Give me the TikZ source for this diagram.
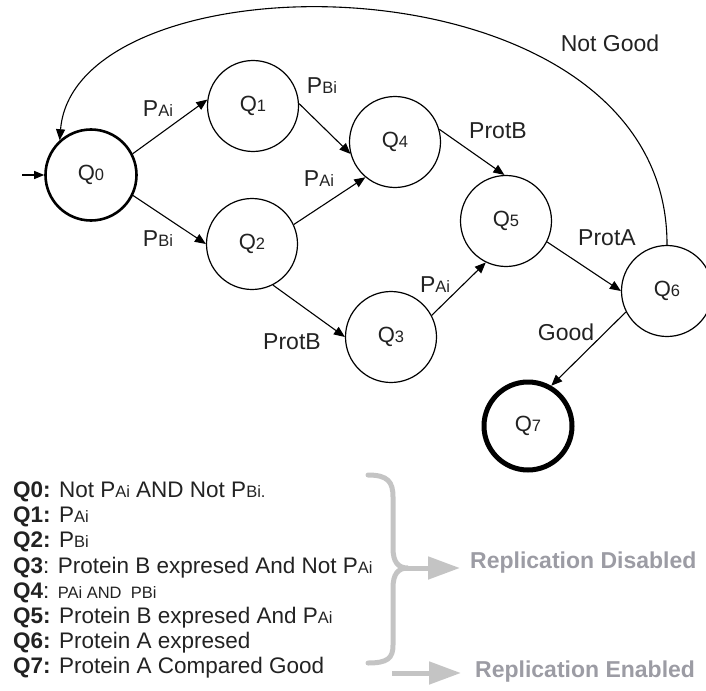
\documentclass[tikz,border=0pt]{standalone}
\usepackage{fontspec}
\setmainfont{Liberation Sans}
\usetikzlibrary{arrows.meta}

% smaller, baseline-aligned index text (Q0, PAi, ...)
\newcommand\idx[1]{{\fontsize{16.5}{16.5}\selectfont #1}}
\newcommand\lidx[1]{{\fontsize{16.5}{16.5}\selectfont #1}}

\definecolor{ink}{HTML}{222222}
\definecolor{bracegray}{HTML}{C4C4C4}
\definecolor{repgray}{HTML}{9C9CA4}

\begin{document}
\begin{tikzpicture}[x=1pt,y=-1pt,
  state/.style={circle, draw, line width=1.2pt, minimum size=91pt, inner sep=0pt,
    font=\fontsize{22}{22}\selectfont, text=ink},
  initstate/.style={state, line width=2.6pt},
  finalstate/.style={state, line width=5pt, minimum size=88pt},
  trans/.style={-{Triangle[length=11pt,width=9pt]}, line width=1.1pt},
  lbl/.style={font=\fontsize{23}{23}\selectfont, inner sep=0pt, text=ink},
  legend/.style={anchor=base west, inner sep=0pt, font=\fontsize{22.5}{22.5}\selectfont, text=ink},
  bigarrow/.style={draw=bracegray, line width=5pt,
    -{Triangle[length=32pt,width=22pt]}, color=bracegray},
  reptext/.style={anchor=west, inner sep=0pt, text=repgray,
    font=\fontsize{23}{23}\selectfont\bfseries}
]
\useasboundingbox (0,0) rectangle (706,690);

% states
\node[initstate]  (q0) at (91,175)  {Q\idx{0}};
\node[state]      (q1) at (253,106) {Q\idx{1}};
\node[state]      (q2) at (252,244) {Q\idx{2}};
\node[state]      (q3) at (391,337) {Q\idx{3}};
\node[state]      (q4) at (395,142) {Q\idx{4}};
\node[state]      (q5) at (506,221) {Q\idx{5}};
\node[state]      (q6) at (667,291) {Q\idx{6}};
\node[finalstate] (q7) at (528,426) {Q\idx{7}};

% entry arrow
\coordinate (start) at (22,175);
\draw[-{Triangle[length=10pt,width=8pt]}, line width=1.1pt] (start) -- (q0.west);

% transitions
\draw[trans] (q0.27)  -- (q1.172);
\draw[trans] (q0.-26) -- (q2.180);
\draw[trans] (q1.3)   -- (q4.195);
\draw[trans] (q2.25)  -- (q4.-130);
\draw[trans] (q2.-63) -- (q3.180);
\draw[trans] (q4.16)  -- (q5.92);
\draw[trans] (q3.28)  -- (q5.-116);
\draw[trans] (q5.-27) -- (q6.180);
\draw[trans] (q6.207) -- (q7.60);
\draw[trans] (q6.90) .. controls (668,-50) and (75,-50) .. (q0.132);

% transition labels
\node[lbl] (l01) at (158,109) {P\idx{Ai}};
\node[lbl] (l02) at (158,239) {P\idx{Bi}};
\node[lbl] (l14) at (322,86)  {P\idx{Bi}};
\node[lbl] (l24) at (319,179) {P\idx{Ai}};
\node[lbl] (l45) at (498,131) {ProtB};
\node[lbl] (l23) at (292,342) {ProtB};
\node[lbl] (l35) at (435,285) {P\idx{Ai}};
\node[lbl] (l56) at (607,238) {ProtA};
\node[lbl] (l67) at (566,332) {Good};
\node[lbl] (l60) at (610,43)  {Not Good};

% legend
\node[legend] (d0) at (13,497) {\textbf{Q0:} Not P\lidx{Ai} AND Not P\lidx{Bi.}};
\node[legend] (d1) at (13,522) {\textbf{Q1:} P\lidx{Ai}};
\node[legend] (d2) at (13,547) {\textbf{Q2:} P\lidx{Bi}};
\node[legend] (d3) at (13,573) {\textbf{Q3}: Protein B expresed And Not P\lidx{Ai}};
\node[legend] (d4) at (13,598) {\textbf{Q4}: \lidx{PAi AND\ \ PBi}};
\node[legend] (d5) at (13,623) {\textbf{Q5:} Protein B expresed And P\lidx{Ai}};
\node[legend] (d6) at (13,648) {\textbf{Q6:} Protein A expresed};
\node[legend] (d7) at (13,673) {\textbf{Q7:} Protein A Compared Good};

% brace grouping Q0-Q6
\draw[bracegray, line width=5pt, line cap=round]
  (368,475) .. controls (388,475) and (393,482) .. (393,497)
  -- (393,548) .. controls (393,562) and (398,568) .. (408,568)
  .. controls (398,568) and (393,574) .. (393,588)
  -- (393,645) .. controls (393,658) and (388,663) .. (368,663);

\coordinate (bt) at (400,568);
\coordinate (et) at (392,673);
\node[reptext] (rd) at (470,563) {Replication Disabled};
\node[reptext] (re) at (475,672) {Replication Enabled};
\draw[bigarrow] (bt) -- ([xshift=-10pt]rd.west |- bt);
\draw[bigarrow] (et) -- ([xshift=-14pt]re.west |- et);
\end{tikzpicture}
\end{document}
